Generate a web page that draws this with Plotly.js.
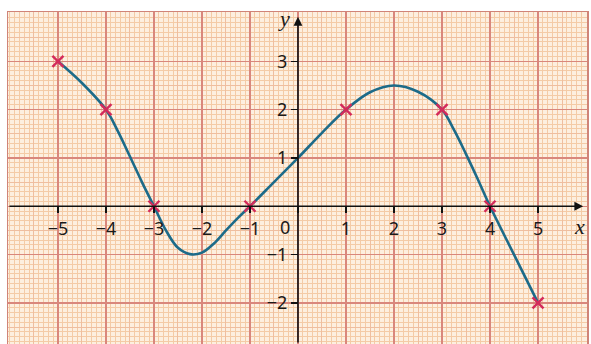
<!DOCTYPE html>
<html>
<head>
<meta charset="utf-8">
<script src="https://cdn.plot.ly/plotly-3.0.1.min.js"></script>
<style>html,body{margin:0;padding:0;background:#fff;}#chart{width:591px;height:344px;}</style>
</head>
<body>
<div id="chart"></div>
<script>
// Curve f(x)
const curveX = [-5, -4.5, -4, -3.75, -3.5, -3.25, -3, -2.75, -2.5, -2.25, -2, -1.75, -1.5, -1.25, -1, -0.5, 0, 0.5, 1, 1.5, 2, 2.5, 3, 3.25, 3.5, 3.75, 4, 4.5, 5];
const curveY = [3, 2.55, 2, 1.55, 1.03, 0.5, 0, -0.5, -0.86, -0.99, -0.96, -0.77, -0.5, -0.24, 0, 0.5, 1.0, 1.52, 2, 2.36, 2.5, 2.37, 2, 1.58, 1.08, 0.55, 0, -1.0, -2];
// Marked points (crosses)
const markX = [-5, -4, -3, -1, 1, 3, 4, 5];
const markY = [3, 2, 0, 0, 2, 2, 0, -2];
// Tick labels
const xTickVals = [-5, -4, -3, -2, -1, 0, 1, 2, 3, 4, 5];
const xTickText = ['\u22125', '\u22124', '\u22123', '\u22122', '\u22121', '', '1', '2', '3', '4', '5'];
const yTickVals = [-2, -1, 0, 1, 2, 3];
const yTickText = ['\u22122', '\u22121', '', '1', '2', '3'];

const xr = [-6.04, 6.02];
const yr = [-2.85, 4.02];
const posX = (0 - yr[0]) / (yr[1] - yr[0]);
const posY = (0 - xr[0]) / (xr[1] - xr[0]);

const MINOR = '#f4cba6';
const HALF = '#efbe9f';
const MAJOR = '#d9877c';
const BORDER = '#d08478';
const tickFont = {family: 'Noto Sans, Open Sans, sans-serif', size: 18, color: '#1a1a1a'};

const traces = [
  {x: curveX, y: curveY, type: 'scatter', mode: 'lines', xaxis: 'x', yaxis: 'y',
   line: {color: '#1d6b89', width: 2.6, shape: 'spline', smoothing: 1}, hoverinfo: 'skip'},
  {x: markX, y: markY, type: 'scatter', mode: 'markers', xaxis: 'x2', yaxis: 'y2',
   marker: {symbol: 'x-thin', size: 11, color: '#d42a5b', line: {width: 2.4, color: '#d42a5b'}}, hoverinfo: 'skip'}
];

const layout = {
  width: 591, height: 344,
  margin: {l: 8, r: 4, t: 12, b: 0},
  paper_bgcolor: '#ffffff',
  plot_bgcolor: '#fdefdf',
  showlegend: false,
  xaxis: {range: xr, showgrid: true, tick0: 0.5, dtick: 1, gridcolor: HALF, gridwidth: 1,
          minor: {tick0: 0, dtick: 0.1, showgrid: true, gridcolor: MINOR, gridwidth: 1},
          showticklabels: false, ticks: '', zeroline: false,
          showline: true, mirror: true, linecolor: BORDER, linewidth: 1.5, fixedrange: true},
  yaxis: {range: yr, showgrid: true, tick0: 0.5, dtick: 1, gridcolor: HALF, gridwidth: 1,
          minor: {tick0: 0, dtick: 0.1, showgrid: true, gridcolor: MINOR, gridwidth: 1},
          showticklabels: false, ticks: '', zeroline: false,
          showline: true, mirror: true, linecolor: BORDER, linewidth: 1.5, fixedrange: true},
  xaxis2: {overlaying: 'x', anchor: 'free', position: posX, side: 'bottom', range: xr,
           tickmode: 'array', tickvals: xTickVals, ticktext: xTickText,
           showgrid: true, gridcolor: MAJOR, gridwidth: 1.3, zeroline: false, showline: false,
           ticks: 'outside', ticklen: 6, tickwidth: 1.3, tickcolor: '#111',
           tickfont: tickFont, ticklabelstandoff: 0, fixedrange: true},
  yaxis2: {overlaying: 'y', anchor: 'free', position: posY, side: 'left', range: yr,
           tickmode: 'array', tickvals: yTickVals, ticktext: yTickText,
           showgrid: true, gridcolor: MAJOR, gridwidth: 1.3, zeroline: false, showline: false,
           ticks: 'outside', ticklen: 7, tickwidth: 1.3, tickcolor: '#111',
           tickfont: tickFont, fixedrange: true},
  annotations: [
    {x: 5.94, y: 0, ax: xr[0], ay: 0, xref: 'x', yref: 'y', axref: 'x', ayref: 'y',
     text: '', showarrow: true, arrowhead: 2, arrowsize: 1.1, arrowwidth: 1.6, arrowcolor: '#111', standoff: 0},
    {x: 0, y: 3.92, ax: 0, ay: yr[0], xref: 'x', yref: 'y', axref: 'x', ayref: 'y',
     text: '', showarrow: true, arrowhead: 2, arrowsize: 1.1, arrowwidth: 1.6, arrowcolor: '#111', standoff: 0},
    {x: 0, y: 0, xref: 'x', yref: 'y', text: '0', showarrow: false, xanchor: 'right', yanchor: 'top',
     xshift: -6, yshift: -7, font: tickFont},
    {x: 0, y: 3.92, xref: 'x', yref: 'y', text: '<i>y</i>', showarrow: false, xanchor: 'right', yanchor: 'middle',
     xshift: -6, yshift: -2, font: {family: 'Liberation Serif, DejaVu Serif, serif', size: 22, color: '#1a1a1a'}},
    {x: 5.94, y: 0, xref: 'x', yref: 'y', text: '<i>x</i>', showarrow: false, xanchor: 'center', yanchor: 'top',
     xshift: -4, yshift: -6, font: {family: 'Liberation Serif, DejaVu Serif, serif', size: 22, color: '#1a1a1a'}}
  ]
};

Plotly.newPlot('chart', traces, layout, {displayModeBar: false, staticPlot: true});
</script>
</body>
</html>
